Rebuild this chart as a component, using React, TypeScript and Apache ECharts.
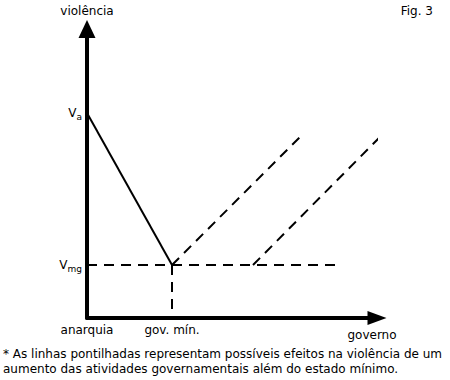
import React, { useEffect, useRef } from "react";
import * as echarts from "echarts";

// Schematic units (arbitrary "pixel-like" units on both axes)
const X_MAX = 290;
const Y_MAX = 289;

const xLabelValues = [0, 85];
const xLabelTexts = ["anarquia", "gov. mín."];
const yLabelValues = [53, 205];
const yLabelTexts = ["{v|V}{s|mg}", "{v|V}{s|a}"];

// solid line: from V_a at anarquia down to V_mg at gov. mín.
const solidLine = [[0, 205], [85, 53]];
// dashed lines
const horizontalDashed = [[0, 53], [248, 53]];
const verticalDashed = [[85, 53], [85, 0]];
const diagonal1 = [[85, 53], [213, 181]];
const diagonal2 = [[166, 53], [293, 181]];

const axisName = { x: "governo", y: "violência" };
const figLabel = "Fig. 3";
const footnote =
  "* As linhas pontilhadas representam possíveis efeitos na violência de um\naumento das atividades governamentais além do estado mínimo.";

const FONT = "DejaVu Sans";
const FS = 12;

export default function App() {
  const ref = useRef<HTMLDivElement>(null);

  useEffect(() => {
    if (!ref.current) return;
    const chart = echarts.init(ref.current, null, { renderer: "svg" });
    const dashedStyle = { color: "#000", width: 2, type: [10, 7] as any };
    const mkLine = (data: number[][], lineStyle: any) => ({
      type: "line",
      data,
      symbol: "none",
      silent: true,
      clip: false,
      lineStyle,
    });
    chart.setOption({
      animation: false,
      backgroundColor: "#fff",
      textStyle: { fontFamily: FONT },
      title: [
        {
          text: figLabel,
          right: 17,
          top: 5,
          padding: 0,
          textStyle: { fontFamily: FONT, fontSize: FS, fontWeight: "normal", color: "#000" },
        },
        {
          text: footnote,
          left: 3,
          top: 346,
          padding: 0,
          textStyle: {
            fontFamily: FONT,
            fontSize: FS,
            fontWeight: "normal",
            color: "#000",
            lineHeight: 15,
          },
        },
      ],
      grid: { left: 87, top: 29, width: 290, height: 289, containLabel: false },
      xAxis: {
        type: "value",
        min: 0,
        max: X_MAX,
        name: axisName.x,
        nameLocation: "end",
        nameGap: -5,
        nameTextStyle: {
          fontFamily: FONT,
          fontSize: FS,
          color: "#000",
          align: "center",
          verticalAlign: "top",
          padding: [11, 0, 0, 0],
        },
        axisLine: {
          show: true,
          symbol: ["none", "triangle"],
          symbolSize: [14, 19],
          lineStyle: { color: "#000", width: 4 },
        },
        axisTick: { show: false },
        splitLine: { show: false },
        axisLabel: {
          customValues: xLabelValues,
          formatter: (v: number) => xLabelTexts[xLabelValues.indexOf(v)] ?? "",
          fontFamily: FONT,
          fontSize: FS,
          color: "#000",
          margin: 6,
          showMinLabel: true,
        },
      },
      yAxis: {
        type: "value",
        min: 0,
        max: Y_MAX,
        name: axisName.y,
        nameLocation: "end",
        nameGap: 12,
        nameTextStyle: { fontFamily: FONT, fontSize: FS, color: "#000" },
        axisLine: {
          show: true,
          symbol: ["none", "triangle"],
          symbolSize: [17, 18],
          lineStyle: { color: "#000", width: 4 },
        },
        axisTick: { show: false },
        splitLine: { show: false },
        axisLabel: {
          customValues: yLabelValues,
          formatter: (v: number) => yLabelTexts[yLabelValues.indexOf(v)] ?? "",
          margin: 5,
          rich: {
            v: { fontFamily: FONT, fontSize: FS, color: "#000" },
            s: { fontFamily: FONT, fontSize: 9, color: "#000", padding: [7, 0, 0, 0] },
          },
        },
      },
      series: [
        mkLine(solidLine, { color: "#000", width: 2 }),
        mkLine(horizontalDashed, dashedStyle),
        mkLine(verticalDashed, dashedStyle),
        mkLine(diagonal1, dashedStyle),
        mkLine(diagonal2, dashedStyle),
      ],
    });
    return () => chart.dispose();
  }, []);

  return (
    <div
      ref={ref}
      style={{ position: "absolute", left: 0, top: 0, width: 450, height: 380 }}
    />
  );
}
